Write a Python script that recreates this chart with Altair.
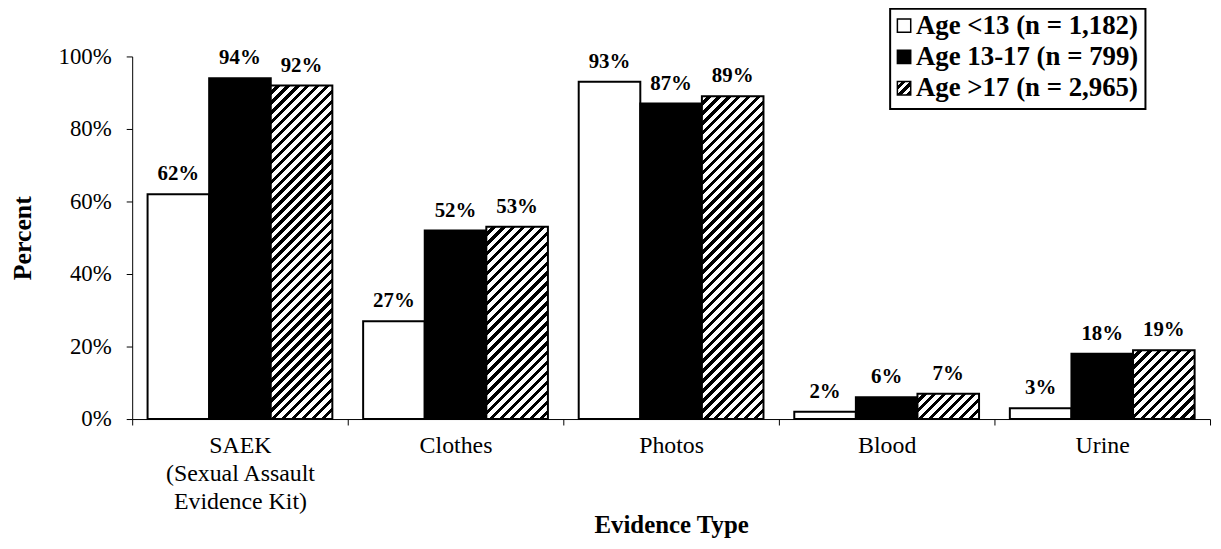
import altair as alt

# ---------------- data ----------------
categories = ["SAEK|(Sexual Assault|Evidence Kit)", "Clothes", "Photos", "Blood", "Urine"]
series = ["Age <13 (n = 1,182)", "Age 13-17 (n = 799)", "Age >17 (n = 2,965)"]
under13 = [62, 27, 93, 2, 3]
age13to17 = [94, 52, 87, 6, 18]
over17 = [92, 53, 89, 7, 19]
y_ticks = [0, 20, 40, 60, 80, 100]
series_style = ["white", "black", "hatch"]

# ---------------- layout ----------------
W, H = 1085, 365
FONT = "Liberation Serif"
BAR_W = W / len(categories) / 3.5


def hatch(w, h, period=10.0, black=4.5):
    """Diagonal '/' stripes as a linear gradient in bounding-box units."""
    w = max(w, 1.0)
    h = max(h, 1.0)
    L = w + h
    stops = []
    n = int(L // period) + 1
    for i in range(n + 1):
        s = i * period
        a = min(s / L, 1)
        b = min((s + period - black) / L, 1)
        c = min((s + period) / L, 1)
        stops += [
            {"offset": a, "color": "white"},
            {"offset": b, "color": "white"},
            {"offset": b, "color": "black"},
            {"offset": c, "color": "black"},
        ]
    d = w * w + h * h
    return {"gradient": "linear", "x1": 0, "y1": 0,
            "x2": w * L / d, "y2": h * L / d, "stops": stops}


rows = []
for s_name, vals, kind in zip(series, [under13, age13to17, over17], series_style):
    for c, v in zip(categories, vals):
        paint = hatch(BAR_W, v / 100 * H) if kind == "hatch" else kind
        rows.append({"cat": c, "series": s_name, "value": v, "paint": paint})

legend_rows = []
for s_name, kind in zip(series, series_style):
    paint = hatch(14, 14, period=9.0, black=4.5) if kind == "hatch" else kind
    legend_rows.append({"series": s_name, "paint": paint})

# ---------------- encodings ----------------
x_enc = alt.X(
    "cat:N",
    sort=categories,
    scale=alt.Scale(domain=categories, paddingInner=0, paddingOuter=0),
    axis=alt.Axis(
        title="Evidence Type",
        labelExpr="split(datum.label, '|')",
        labelAngle=0,
        labelFontSize=24,
        labelLineHeight=28,
        labelPadding=9,
        tickBand="extent",
        tickSize=6,
        titleFontSize=25,
        titleFontWeight="bold",
        titleX=W / 2,
        titleY=106,
        titleAlign="center",
        titleBaseline="middle",
    ),
)
xo_enc = alt.XOffset(
    "series:N",
    sort=series,
    scale=alt.Scale(domain=series, paddingInner=0, paddingOuter=0.25),
)
y_enc = alt.Y(
    "value:Q",
    scale=alt.Scale(domain=[0, 100], nice=False),
    axis=alt.Axis(
        title="Percent",
        values=y_ticks,
        labelExpr="datum.value + '%'",
        labelFontSize=23,
        labelPadding=15,
        tickSize=6,
        grid=False,
        titleFontSize=26,
        titleFontWeight="bold",
        titleX=-110,
        titleY=H / 2,
        titleAngle=270,
        titleAlign="center",
        titleBaseline="middle",
    ),
)

base = alt.Chart(alt.Data(values=rows))

bars = base.mark_bar(stroke="black", strokeWidth=2).encode(
    x=x_enc,
    xOffset=xo_enc,
    y=y_enc,
    fill=alt.Fill("paint:N", scale=None),
)

labels = base.transform_calculate(label="datum.value + '%'").mark_text(
    font=FONT, fontSize=21, fontWeight="bold", baseline="alphabetic", dy=-14, color="black"
).encode(
    x=x_enc,
    xOffset=xo_enc,
    y=y_enc,
    text=alt.Text("label:N"),
)

main = alt.layer(bars, labels)

# ---------------- legend ----------------
leg_y = alt.Y(
    "series:N",
    sort=series,
    scale=alt.Scale(type="point", domain=series, range=[-31, 32], padding=0),
    axis=None,
)
leg_base = alt.Chart(alt.Data(values=legend_rows))

leg_box = alt.Chart(alt.Data(values=[{"a": 1}])).mark_rect(
    fill="white", stroke="black", strokeWidth=2
).encode(
    x=alt.value(763), x2=alt.value(1020), y=alt.value(-48), y2=alt.value(53)
)

leg_sym = leg_base.mark_square(size=180, stroke="black", strokeWidth=1.5, opacity=1).encode(
    x=alt.value(777),
    y=leg_y,
    fill=alt.Fill("paint:N", scale=None),
)

leg_txt = leg_base.mark_text(
    font=FONT, fontSize=27, fontWeight="bold", align="left", baseline="middle", color="black"
).encode(
    x=alt.value(789),
    y=leg_y,
    text=alt.Text("series:N"),
)

chart = (
    alt.layer(main, leg_box, leg_sym, leg_txt)
    .resolve_scale(y="independent")
    .properties(
        width=W,
        height=H,
        autosize="none",
        padding={"left": 125, "top": 47, "right": 3, "bottom": 121},
    )
    .configure_view(stroke=None)
    .configure_axis(
        labelFont=FONT,
        titleFont=FONT,
        labelColor="black",
        titleColor="black",
        domainColor="black",
        tickColor="black",
        domainWidth=1,
        tickWidth=1,
    )
)

chart.save("out.html", embed_options={"renderer": "svg", "actions": False})
